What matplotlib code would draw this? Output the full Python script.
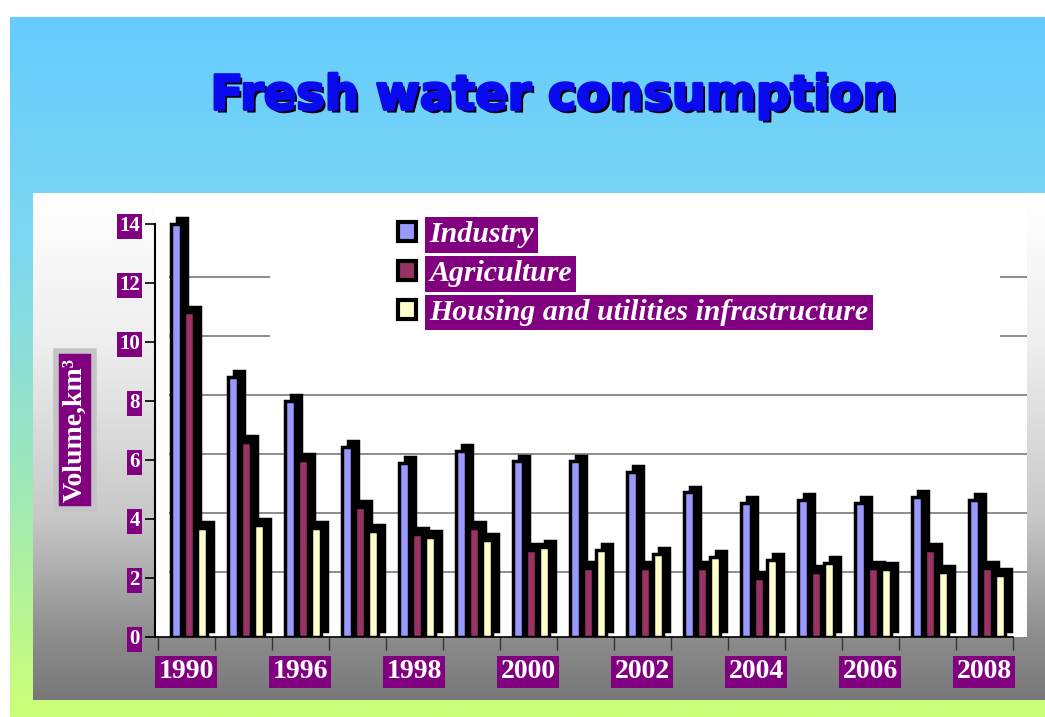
import numpy as np
import matplotlib
matplotlib.use("Agg")
import matplotlib.pyplot as plt
import matplotlib.patheffects as pe
from matplotlib.patches import Patch, Rectangle
from matplotlib.colors import LinearSegmentedColormap

# data (volume, km3)
years = ["1990", "1995", "1996", "1997", "1998", "1999", "2000", "2001",
         "2002", "2003", "2004", "2005", "2006", "2007", "2008"]
industry = [14.0, 8.8, 8.0, 6.45, 5.9, 6.3, 5.95, 5.95, 5.6, 4.9, 4.55, 4.65, 4.55, 4.75, 4.65]
agriculture = [11.0, 6.6, 6.0, 4.4, 3.5, 3.7, 2.95, 2.35, 2.35, 2.35, 2.0, 2.2, 2.35, 2.95, 2.35]
housing = [3.7, 3.8, 3.7, 3.6, 3.4, 3.3, 3.05, 2.95, 2.8, 2.7, 2.6, 2.5, 2.3, 2.2, 2.1]

series = ["Industry", "Agriculture", "Housing and utilities infrastructure"]
colors = ["#9999ff", "#993366", "#ffffcc"]
yticks = [0, 2, 4, 6, 8, 10, 12, 14]

purple = "#800080"
W, H = 1045, 717
fig = plt.figure(figsize=(W / 100, H / 100), dpi=100)
fig.patch.set_facecolor("white")

# background: slide gradient + grey chart panel
bg = fig.add_axes([0, 0, 1, 1])
bg.set_xlim(0, W)
bg.set_ylim(H, 0)
bg.axis("off")
slide = LinearSegmentedColormap.from_list("slide", ["#66ccff", "#7dd8f0", "#9ee8b8", "#ccff77"])
grad = np.linspace(0, 1, 256).reshape(-1, 1)
bg.imshow(grad, cmap=slide, extent=[10, W, H, 17], aspect="auto", zorder=0)
panel = LinearSegmentedColormap.from_list(
    "panel", [(0, "#ffffff"), (0.3, "#eeeeee"), (0.64, "#c8c8c8"), (0.88, "#8c8c8c"), (1, "#787878")])
bg.imshow(grad, cmap=panel, extent=[33, W, 700, 193], aspect="auto", zorder=1)

title_col = "#0a0aee"
fig.text(553 / W, 1 - 96 / H, "Fresh water consumption", ha="center", va="center",
         fontsize=34.5, fontweight="heavy", family="DejaVu Sans", color=title_col,
         path_effects=[pe.withSimplePatchShadow(offset=(2.2, -2.2), shadow_rgbFace="black", alpha=1),
                       pe.withStroke(linewidth=2, foreground=title_col)])

ax = fig.add_axes([155 / W, 80 / H, 872 / W, 444 / H])
ax.set_facecolor("white")
ax.set_xlim(-0.544, 14.75)
ax.set_ylim(0, 15.05)

DX, DY = 0.105, 0.2  # 3d depth of bars / back wall
x = np.arange(len(years))
offsets = [-0.18, 0.05, 0.28]
bw = 0.175

# gridlines on the back wall
for v in yticks[1:-1]:
    ax.axhline(v + DY, xmin=0.017, xmax=1, color="#8c8c8c", lw=1.4, zorder=1)

# white area behind the legend (hides upper gridlines)
ax.add_patch(Rectangle((0.132, 0.642), 0.837, 0.342, transform=ax.transAxes,
                       facecolor="white", edgecolor="none", zorder=2))

for vals, col, off in zip([industry, agriculture, housing], colors, offsets):
    ax.bar(x + off + DX, vals, width=bw, bottom=DY, color="black", edgecolor="black", lw=2.5, zorder=3)
    ax.bar(x + off, vals, width=bw, color=col, edgecolor="black", lw=2.5, zorder=3)

for s in ["top", "right"]:
    ax.spines[s].set_visible(False)
ax.spines["left"].set_bounds(0, 14)
ax.spines["left"].set_linewidth(1.5)
ax.spines["bottom"].set_bounds(-0.544, 14.5)
ax.spines["bottom"].set_linewidth(1.2)

ax.set_yticks(yticks)
ax.set_yticklabels([str(v) for v in yticks])
ax.tick_params(axis="y", length=7, width=1.2, pad=4)
ax.set_xticks(x[::2])
ax.set_xticklabels(years[::2])
ax.set_xticks(np.arange(-0.5, 15, 1), minor=True)
ax.tick_params(axis="x", which="major", length=0, pad=16)
ax.tick_params(axis="x", which="minor", length=9, width=1, color="#333333")

for lab in ax.get_yticklabels():
    lab.set(color="white", fontsize=15, fontweight="bold", family="Liberation Serif")
    lab.set_bbox(dict(facecolor=purple, edgecolor="none", pad=1.5))
for lab in ax.get_xticklabels():
    lab.set(color="white", fontsize=20, fontweight="bold", family="Liberation Serif")
    lab.set_bbox(dict(facecolor=purple, edgecolor="none", pad=2.5))

handles = [Patch(facecolor=c, edgecolor="black", linewidth=3) for c in colors]
leg = ax.legend(handles, series, loc="upper left", bbox_to_anchor=(0.279, 0.936),
                frameon=False, borderaxespad=0, borderpad=0, handlelength=0.6,
                handleheight=0.6, handletextpad=0.45, labelspacing=0.4,
                prop={"family": "Liberation Serif", "weight": "bold", "style": "italic", "size": 21.5})
leg.set_zorder(6)
for t in leg.get_texts():
    t.set_color("white")
    t.set_bbox(dict(facecolor=purple, edgecolor="none", pad=3))

fig.text(75 / W, 1 - 430 / H, "Volume,km³", rotation=90, ha="center", va="center",
         color="white", fontsize=20, fontweight="bold", family="Liberation Serif",
         bbox=dict(facecolor=purple, edgecolor="#c4c4c4", linewidth=4, pad=5))

fig.savefig("out.png", dpi=100)
